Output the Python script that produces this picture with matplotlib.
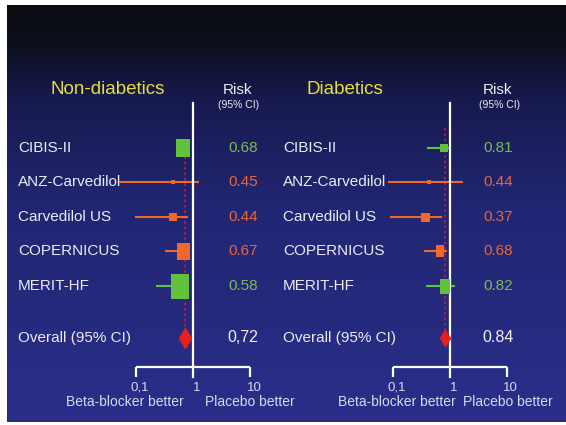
import numpy as np
import matplotlib
matplotlib.use("Agg")
import matplotlib.pyplot as plt
import matplotlib.transforms as mtransforms
from matplotlib.colors import LinearSegmentedColormap

plt.rcParams['font.family'] = ['Liberation Sans', 'DejaVu Sans']

# trials, point estimates (risk) and 95% CI
trials = ["CIBIS-II", "ANZ-Carvedilol", "Carvedilol US", "COPERNICUS", "MERIT-HF"]
overall_label = "Overall (95% CI)"

nondiab_risk = [0.68, 0.45, 0.44, 0.67, 0.58]
nondiab_low = [0.60, 0.05, 0.096, 0.32, 0.22]
nondiab_high = [0.76, 1.27, 0.82, 0.82, 0.75]
nondiab_overall = 0.72
nondiab_overall_text = "0,72"

diab_risk = [0.81, 0.44, 0.37, 0.68, 0.82]
diab_low = [0.41, 0.082, 0.089, 0.35, 0.38]
diab_high = [1.04, 1.76, 0.75, 0.89, 1.27]
diab_overall = 0.84
diab_overall_text = "0.84"

tick_values = [0.1, 1, 10]
tick_labels = ["0,1", "1", "10"]

# trial colour groups: beta1-selective (green) vs carvedilol (orange)
GREEN = "#62c23c"
ORANGE = "#f0692a"
GREEN_TXT = "#79bb55"
ORANGE_TXT = "#e8663c"
row_colors = [GREEN, ORANGE, ORANGE, ORANGE, GREEN]
txt_colors = [GREEN_TXT, ORANGE_TXT, ORANGE_TXT, ORANGE_TXT, GREEN_TXT]

W, H = 566, 425
fig = plt.figure(figsize=(W / 100, H / 100), dpi=100, facecolor="white")


def fx(px):
    return px / W


def fy(py):
    return 1 - py / H


# dark-to-blue slide background inside a thin white frame
bg = fig.add_axes([fx(7), fy(422), fx(W - 7), (422 - 5) / H])
bg.set_axis_off()
cmap = LinearSegmentedColormap.from_list(
    "slide",
    [(0.0, (0.04, 0.05, 0.06)), (0.09, (0.05, 0.06, 0.12)),
     (0.22, (0.09, 0.10, 0.30)), (0.48, (0.13, 0.15, 0.45)),
     (1.0, (0.17, 0.18, 0.54))])
grad = np.linspace(0, 1, 256).reshape(-1, 1)
bg.imshow(grad, aspect="auto", cmap=cmap, extent=[0, 1, 1, 0])
bg.set_zorder(-10)

# row layout: pixel y = ROW0 + ROW_STEP * row
ROW0, ROW_STEP = 148, 34.5
rows = np.arange(len(trials), dtype=float)
overall_row = len(trials) + 0.5
AX_TOP, AX_BOT = 60, 410
PX_PER_DEC = 57


def row_of(py):
    return (py - ROW0) / ROW_STEP


panels = [
    dict(x0=8, x1=290, one=193, risk=nondiab_risk, low=nondiab_low, high=nondiab_high,
         overall=nondiab_overall, overall_text=nondiab_overall_text,
         title="Non-diabetics", title_x=108, label_x=18, value_x=243, risk_x=237,
         box_h=[18, 5, 8, 17, 25], box_w=[14, 5, 8, 13, 18], diamond=10.5,
         dash_top=140, bb_x=125, pb_x=250),
    dict(x0=290, x1=566, one=449.5, risk=diab_risk, low=diab_low, high=diab_high,
         overall=diab_overall, overall_text=diab_overall_text,
         title="Diabetics", title_x=345, label_x=283, value_x=498, risk_x=498,
         box_h=[8, 4, 9, 12, 15], box_w=[8, 4, 9, 8, 10], diamond=8,
         dash_top=128, bb_x=397, pb_x=508),
]

for p in panels:
    ax = fig.add_axes([fx(p["x0"]), fy(AX_BOT), (p["x1"] - p["x0"]) / W, (AX_BOT - AX_TOP) / H])
    ax.set_xscale("log")
    ax.set_xlim(10 ** ((p["x0"] - p["one"]) / PX_PER_DEC), 10 ** ((p["x1"] - p["one"]) / PX_PER_DEC))
    ax.set_ylim(row_of(AX_BOT), row_of(AX_TOP))
    ax.set_axis_off()
    ax.patch.set_alpha(0)

    # line of no effect and the bracket scale underneath
    y_line_top, y_bracket, y_bottom = row_of(103), row_of(367), row_of(377)
    ax.plot([1, 1], [y_line_top, y_bottom], color="white", lw=1.6, zorder=3)
    ax.plot([tick_values[0], tick_values[-1]], [y_bracket, y_bracket], color="white", lw=1.6,
            solid_capstyle="butt")
    ax.vlines([tick_values[0], tick_values[-1]], y_bracket, y_bottom, color="white", lw=1.6)
    for tv, tl in zip(tick_values, tick_labels):
        ax.annotate(tl, (tv, row_of(388)), xytext=(3, 0), textcoords="offset points",
                    ha="center", va="center", color="#d8d8f0", fontsize=9.5)

    # pooled estimate: dotted reference line and diamond
    ax.plot([p["overall"], p["overall"]], [row_of(p["dash_top"]), overall_row],
            color="#b0203c", lw=1.3, ls=(0, (1.5, 1.5)), zorder=1)
    ax.plot(p["overall"], overall_row, marker="d", ms=p["diamond"], color="#e8201c",
            mec="#e8201c", zorder=5)

    # trial CIs and weighted boxes
    for i in range(len(trials)):
        c = row_colors[i]
        ax.plot([p["low"][i], p["high"][i]], [rows[i], rows[i]], color=c, lw=1.5, zorder=2,
                solid_capstyle="butt")
        bw, bh = p["box_w"][i], p["box_h"][i]
        r = bw / bh
        marker = [(-r, -1), (r, -1), (r, 1), (-r, 1), (-r, -1)]
        ax.plot(p["risk"][i], rows[i], marker=marker, ms=bh * 0.72, color=c, mec=c,
                mew=0, zorder=4)

    tr = mtransforms.blended_transform_factory(fig.transFigure, ax.transData)
    for i, name in enumerate(trials):
        ax.text(fx(p["label_x"]), rows[i], name, transform=tr, ha="left", va="center",
                color="#ececf4", fontsize=11, zorder=1)
        ax.text(fx(p["value_x"]), rows[i], f"{p['risk'][i]:.2f}", transform=tr, ha="center",
                va="center", color=txt_colors[i], fontsize=11)
    ax.text(fx(p["label_x"]), overall_row, overall_label, transform=tr, ha="left", va="center",
            color="#ececf4", fontsize=11)
    ax.text(fx(p["value_x"]), overall_row, p["overall_text"], transform=tr, ha="center",
            va="center", color="#f0f0f6", fontsize=11.5)

    fig.text(fx(p["title_x"]), fy(90), p["title"], ha="center", va="center",
             color="#e4df3a", fontsize=13.5)
    fig.text(fx(p["risk_x"]), fy(90), "Risk", ha="center", va="center",
             color="#ececf4", fontsize=11)
    fig.text(fx(p["risk_x"] + 2), fy(105), "(95% CI)", ha="center", va="center",
             color="#ececf4", fontsize=7.5)
    fig.text(fx(p["bb_x"]), fy(402), "Beta-blocker better", ha="center", va="center",
             color="#d8d8f0", fontsize=10)
    fig.text(fx(p["pb_x"]), fy(402), "Placebo better", ha="center", va="center",
             color="#d8d8f0", fontsize=10)

fig.savefig("out.png", dpi=100, facecolor="white")
